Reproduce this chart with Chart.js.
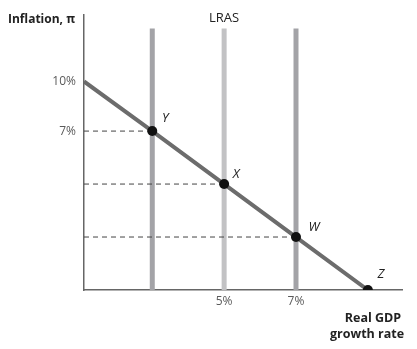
<!DOCTYPE html>
<html>
<head>
<meta charset="utf-8">
<script src="https://cdn.jsdelivr.net/npm/chart.js@4"></script>
<style>
  html, body { margin: 0; padding: 0; background: #fff; }
  #wrap { width: 417px; height: 349px; }
</style>
</head>
<body>
<div id="wrap"><canvas id="adChart"></canvas></div>
<script>
// growth rate (%) and inflation (%)
const lrasX = [3, 5, 7]
const lrasColors = ['#a3a3a7', '#c2c2c4', '#a3a3a7']
const curveX = [1.1, 3, 5, 7, 9]
const curveY = [10, 7, 3.8, 0.6, -2.6]
const pointNames = ['Y', 'X', 'W', 'Z']
const yTicks = [7, 10]
const xTicks = [5, 7]

const xMin = 1.1, xMax = 9.95, yMin = -2.6, yMax = 14, lrasTop = 13.2

let datasets = []

// LRAS lines
lrasX.forEach((x, i) => {
  datasets.push({
    data: [{x: x, y: yMin}, {x: x, y: lrasTop}],
    borderColor: lrasColors[i],
    borderWidth: 5,
    pointRadius: 0,
    order: 5
  })
})

// dashed guides from the y axis to Y, X, W
for (let i = 1; i < 4; i++) {
  datasets.push({
    data: [{x: xMin, y: curveY[i]}, {x: curveX[i], y: curveY[i]}],
    borderColor: '#444',
    borderWidth: 1,
    borderDash: [5, 4],
    pointRadius: 0,
    order: 4
  })
}

// AD curve
datasets.push({
  data: curveX.map((x, i) => ({x: x, y: curveY[i]})),
  borderColor: '#6c6c6c',
  borderWidth: 4,
  pointRadius: 0,
  order: 3
})

// the labelled points
datasets.push({
  data: curveX.slice(1).map((x, i) => ({x: x, y: curveY[i + 1]})),
  showLine: false,
  pointRadius: 5,
  pointBackgroundColor: '#111',
  pointBorderWidth: 0,
  order: 1
})

const labelOffsets = [[13, -13], [12, -10], [18, -10], [13, -16]]

const textPlugin = {
  id: 'textPlugin',
  afterDraw: (chart) => {
    const ctx = chart.ctx
    const xs = chart.scales.x
    const ys = chart.scales.y
    ctx.save()
    ctx.fillStyle = '#222'
    ctx.textBaseline = 'middle'

    // point names
    ctx.font = 'italic 13px "Open Sans"'
    ctx.textAlign = 'center'
    pointNames.forEach((n, i) => {
      let px = xs.getPixelForValue(curveX[i + 1]) + labelOffsets[i][0]
      let py = ys.getPixelForValue(curveY[i + 1]) + labelOffsets[i][1]
      ctx.fillText(n, px, py)
    })

    // LRAS label over the middle line
    ctx.font = '13px "Open Sans"'
    ctx.fillText('LRAS', xs.getPixelForValue(lrasX[1]), 18)

    // axis titles
    ctx.font = 'bold 12px "Open Sans"'
    ctx.textAlign = 'right'
    ctx.fillText('Inflation, \u03c0', 75, 20)
    ctx.font = 'bold 12.5px "Open Sans"'
    ctx.textAlign = 'center'
    ctx.fillText('Real GDP', 373, 318)
    ctx.fillText('growth rate', 367, 334)
    ctx.restore()
  }
}

const chart = new Chart(document.getElementById('adChart'), {
  type: 'line',
  data: { datasets: datasets },
  options: {
    responsive: true,
    maintainAspectRatio: false,
    animation: false,
    layout: { padding: { top: 13, right: 15, left: 0, bottom: 0 } },
    plugins: { legend: { display: false }, tooltip: { enabled: false } },
    scales: {
      x: {
        type: 'linear',
        min: xMin,
        max: xMax,
        grid: { display: false, drawTicks: false },
        border: { color: '#666', width: 1.5 },
        afterBuildTicks: (scale) => { scale.ticks = xTicks.map(v => ({value: v})) },
        afterFit: (scale) => { scale.height = 59 },
        ticks: {
          padding: 4,
          color: '#5a5a5a',
          font: { family: 'Open Sans', size: 12 },
          callback: (v) => v + '%'
        }
      },
      y: {
        type: 'linear',
        min: yMin,
        max: yMax,
        grid: { display: false, drawTicks: false },
        border: { color: '#666', width: 1.5 },
        afterBuildTicks: (scale) => { scale.ticks = yTicks.map(v => ({value: v})) },
        afterFit: (scale) => { scale.width = 84 },
        ticks: {
          padding: 8,
          color: '#5a5a5a',
          font: { family: 'Open Sans', size: 12 },
          callback: (v) => v + '%'
        }
      }
    }
  },
  plugins: [textPlugin]
})
</script>
</body>
</html>
